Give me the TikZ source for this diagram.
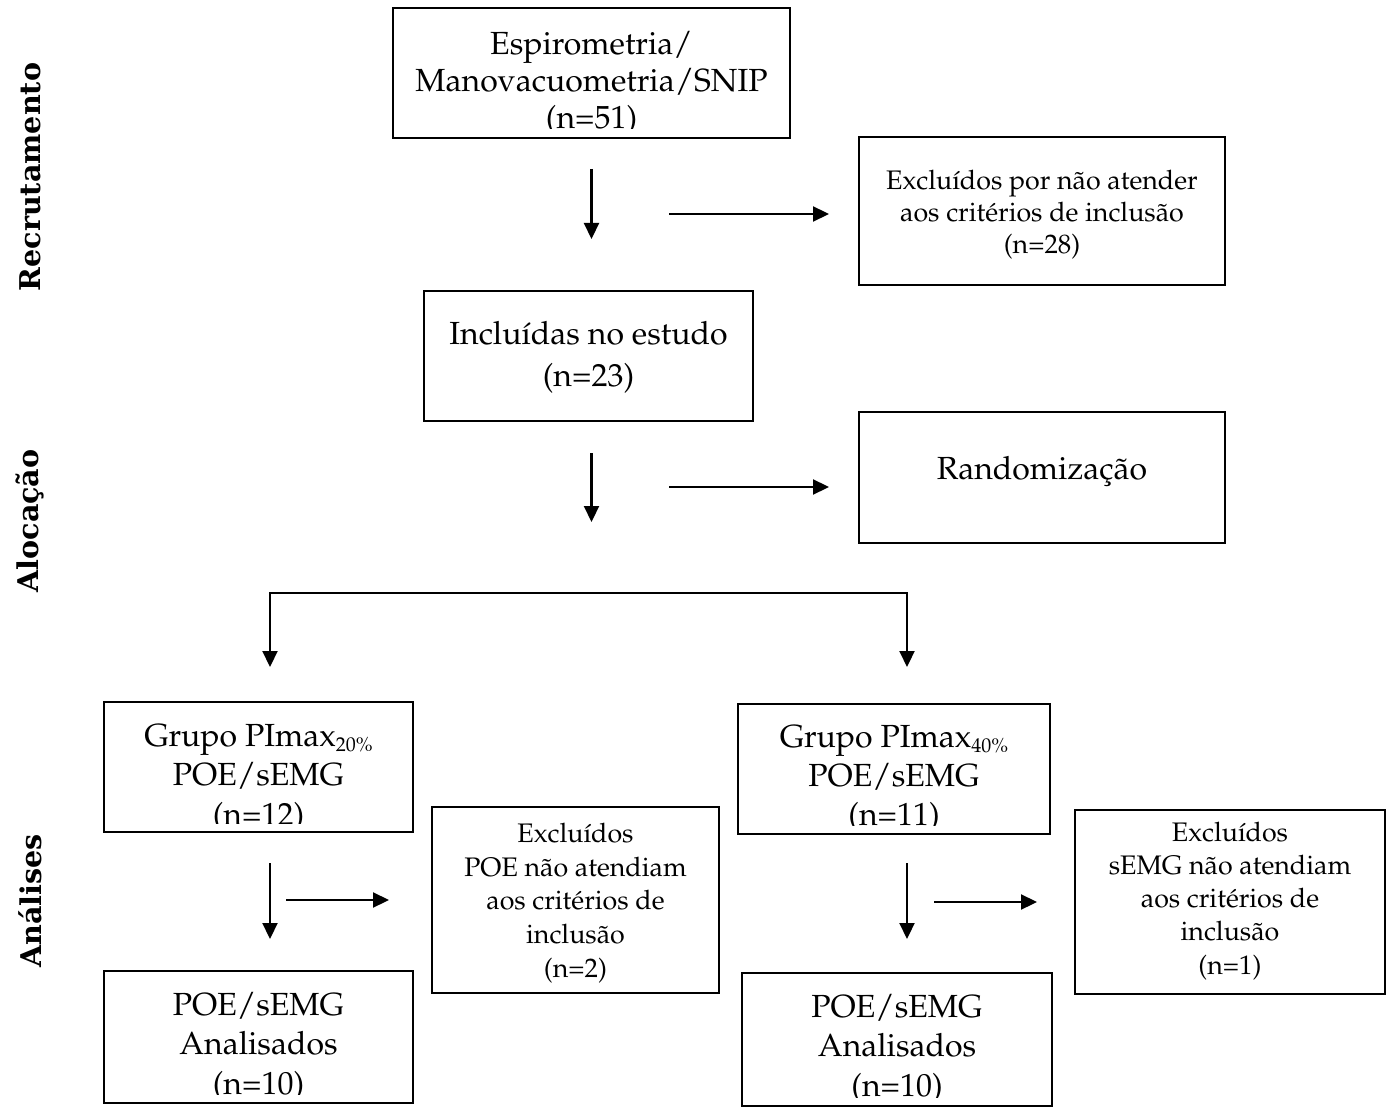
\documentclass[tikz,border=0pt]{standalone}
\usepackage[T1]{fontenc}
\usepackage{fontspec}
\usetikzlibrary{arrows.meta}
\newfontfamily\sidefont{DejaVu Serif}
% Palatino text face (URW Palladio, Type 1)
\newcommand\pal{\fontencoding{T1}\fontfamily{ppl}\selectfont}
\newcommand\bigtxt[1]{\pal\fontsize{16}{#1}\selectfont}
\newcommand\smalltxt[1]{\pal\fontsize{13.4}{#1}\selectfont}
\newcommand\sub[1]{\raisebox{-2.5pt}{\fontsize{10}{10}\selectfont #1}}

\tikzset{
  box/.style={draw, line width=1pt, inner sep=0pt},
  txt/.style={draw=none, fill=none, inner sep=0pt, outer sep=0pt, align=center,
    minimum width=0pt, minimum height=0pt, text width=, text height=, text depth=},
  arr/.style={line width=1.1pt, -{Triangle[length=8pt,width=7.5pt]}},
  side/.style={inner sep=0pt, rotate=90, font=\sidefont\bfseries\fontsize{14.3}{16}\selectfont},
}

% box with clipped text: name, x1, y1, x2, y2, font, top offset, text
\newcommand\flowbox[8]{%
  \pgfmathsetmacro\bw{(#4-#2)/2}%
  \pgfmathsetmacro\bh{(#5-#3)/2}%
  \node[box, minimum width=\bw pt, minimum height=\bh pt,
    path picture={
      \clip ([yshift=4.5pt]path picture bounding box.south west)
            rectangle (path picture bounding box.north east);
      \node[txt, font=#6, anchor=north]
        at ([yshift=-#7]path picture bounding box.north) {#8};
    }] (#1) at ({(#2+#4)/2},{(#3+#5)/2}) {};}

\begin{document}
\begin{tikzpicture}[x=0.5pt, y=-0.5pt]
\useasboundingbox (0,0) rectangle (1386,1112);

% phase labels
\node[side] (lrec) at (30,177) {Recrutamento};
\node[side] (laloc) at (30,521) {Alocação};
\node[side] (lanal) at (30,901) {Análises};

% boxes
\flowbox{rec}{393}{8}{790}{138}{\bigtxt{18.5}}{11.5pt}{Espirometria/\\Manovacuometria/SNIP\\(n=51)}
\flowbox{exc}{859}{137}{1225}{285}{\smalltxt{16}}{16.5pt}{Excluídos por não atender\\aos critérios de inclusão\\(n=28)}
\flowbox{incl}{424}{291}{753}{421}{\bigtxt{21}}{15pt}{Incluídas no estudo\\(n=23)}
\flowbox{rand}{859}{412}{1225}{543}{\bigtxt{18}}{22pt}{Randomização}
\flowbox{gA}{104}{702}{413}{832}{\bigtxt{19.75}}{11pt}{Grupo PImax\sub{20\%}\\POE/sEMG\\(n=12)}
\flowbox{exA}{432}{807}{719}{993}{\smalltxt{16.9}}{8pt}{Excluídos\\POE não atendiam\\aos critérios de\\inclusão\\(n=2)}
\flowbox{gB}{738}{704}{1050}{834}{\bigtxt{19.5}}{10.5pt}{Grupo PImax\sub{40\%}\\POE/sEMG\\(n=11)}
\flowbox{exB}{1075}{810}{1385}{994}{\smalltxt{16.6}}{6pt}{Excluídos\\sEMG não atendiam\\aos critérios de\\inclusão\\(n=1)}
\flowbox{anA}{104}{971}{413}{1103}{\bigtxt{19.75}}{10.5pt}{POE/sEMG\\Analisados\\(n=10)}
\flowbox{anB}{742}{973}{1052}{1106}{\bigtxt{19.75}}{10.5pt}{POE/sEMG\\Analisados\\(n=10)}

% helper points for the free-standing arrows
\coordinate (r1) at (669,214);
\coordinate (r2) at (669,487);
\coordinate (bl) at (270,593);
\coordinate (br) at (907,593);
\coordinate (r3) at (286,900);
\coordinate (r4) at (934,902);

% recruitment
\draw[arr, shorten <=15pt, shorten >=25.5pt] (rec.south) -- (rec.south |- incl.north);
\draw[arr, shorten >=14.5pt] (r1) -- (r1 -| exc.west);
% allocation
\draw[arr, shorten <=15.5pt, shorten >=35.5pt] (rec.south |- incl.south) -- (rec.south |- bl);
\draw[arr, shorten >=14.5pt] (r2) -- (r2 -| rand.west);
\draw[arr, shorten >=17pt] (br) -- (bl) -- (bl |- gA.north);
\draw[arr, shorten >=18pt] (bl) -- (br) -- (br |- gB.north);
% analyses
\draw[arr, shorten <=15pt, shorten >=15.5pt] (bl |- gA.south) -- (bl |- anA.north);
\draw[arr, shorten >=21pt] (r3) -- (r3 -| exA.west);
\draw[arr, shorten <=14pt, shorten >=16.5pt] (br |- gB.south) -- (br |- anB.north);
\draw[arr, shorten >=18.5pt] (r4) -- (r4 -| exB.west);
\end{tikzpicture}
\end{document}
